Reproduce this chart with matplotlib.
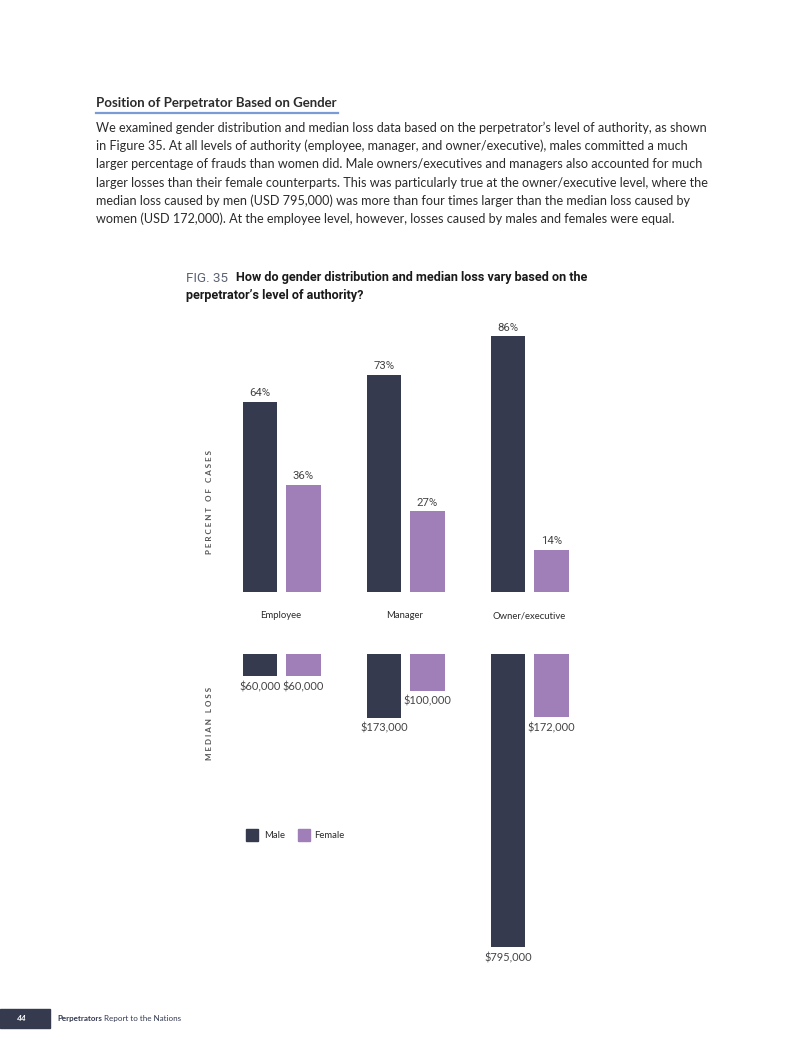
import matplotlib.pyplot as plt
from matplotlib.patches import Rectangle
import numpy as np

# data
levels = ['Employee', 'Manager', 'Owner/executive']
male_pct = [64, 73, 86]
female_pct = [36, 27, 14]
male_loss = [60000, 173000, 795000]
female_loss = [60000, 100000, 172000]

MALE = '#363a4f'
FEMALE = '#a07fb8'
TXT = '#2b2b2b'
W, H = 804, 1044

plt.rcParams['font.family'] = ['Lato', 'DejaVu Sans']
NARROW = ['Roboto', 'DejaVu Sans']

fig = plt.figure(figsize=(W / 100, H / 100), dpi=100)


def fx(x):
    return x / W


def fy(y):
    return 1 - y / H


# axes placed in pixel coords (left, top, right, bottom)
def pix_axes(l, t, r, b):
    return fig.add_axes([fx(l), fy(b), (r - l) / W, (b - t) / H])


# heading + paragraph
fig.text(fx(96), fy(103), 'Position of Perpetrator Based on Gender', fontsize=9.5,
         fontweight='bold', color=TXT, va='center')
fig.add_artist(plt.Line2D([fx(96), fx(338)], [fy(113), fy(113)], color='#7b9bd6', lw=1.6))
para = [
    "We examined gender distribution and median loss data based on the perpetrator\u2019s level of authority, as shown",
    "in Figure 35. At all levels of authority (employee, manager, and owner/executive), males committed a much",
    "larger percentage of frauds than women did. Male owners/executives and managers also accounted for much",
    "larger losses than their female counterparts. This was particularly true at the owner/executive level, where the",
    "median loss caused by men (USD 795,000) was more than four times larger than the median loss caused by",
    "women (USD 172,000). At the employee level, however, losses caused by males and females were equal.",
]
for i, line in enumerate(para):
    fig.text(fx(96), fy(128 + i * 18.2), line, fontsize=9.05, color=TXT, va='center')

# figure title
fig.text(fx(186), fy(278), 'FIG. 35', fontsize=9.6, color='#5a6275', va='center', family=NARROW)
fig.text(fx(236), fy(278), 'How do gender distribution and median loss vary based on the',
         fontsize=9.1, fontweight='bold', color='#1a1a1a', va='center', family=NARROW)
fig.text(fx(186), fy(296), 'perpetrator\u2019s level of authority?',
         fontsize=9.1, fontweight='bold', color='#1a1a1a', va='center', family=NARROW)

x = np.arange(len(levels))
off = 0.1754
bw = 0.282
xl = ((200 - 281.75) / 124, (600 - 281.75) / 124)

# top: percent of cases
ax1 = pix_axes(200, 309.8, 600, 591.5)
ax1.bar(x - off, male_pct, bw, color=MALE)
ax1.bar(x + off, female_pct, bw, color=FEMALE)
for i in range(len(levels)):
    ax1.text(x[i] - off, male_pct[i] + 1.3, f'{male_pct[i]}%', ha='center', va='bottom',
             fontsize=8.2, color='#444', family=NARROW)
    ax1.text(x[i] + off, female_pct[i] + 1.3, f'{female_pct[i]}%', ha='center', va='bottom',
             fontsize=8.2, color='#444', family=NARROW)
ax1.set_xlim(*xl)
ax1.set_ylim(0, 95)
ax1.axis('off')

# category labels
for i, lab in enumerate(levels):
    fig.text(fx(281.75 + 124 * i - 1), fy(616), lab, ha='center', va='center', fontsize=6.8, color=TXT)

# bottom: median loss (hanging bars)
ax2 = pix_axes(200, 654, 600, 952.6)
ax2.bar(x - off, male_loss, bw, color=MALE)
ax2.bar(x + off, female_loss, bw, color=FEMALE)
ax2.set_xlim(*xl)
ax2.set_ylim(810000, 0)
ax2.axis('off')
for i in range(len(levels)):
    for xx, v in ((x[i] - off, male_loss[i]), (x[i] + off, female_loss[i])):
        ax2.text(xx, v + 13000, f'${v:,}', ha='center', va='top', fontsize=7.9, color='#444')

# rotated axis titles
fig.text(fx(210), fy(502), ' '.join('PERCENT') + '   ' + ' '.join('OF') + '   ' + ' '.join('CASES'),
         rotation=90, ha='center', va='center', fontsize=5.8, fontweight='bold', color='#555')
fig.text(fx(210), fy(723), ' '.join('MEDIAN') + '   ' + ' '.join('LOSS'),
         rotation=90, ha='center', va='center', fontsize=5.8, fontweight='bold', color='#555')

# legend
fig.add_artist(Rectangle((fx(246), fy(841)), 12 / W, 12 / H, color=MALE, transform=fig.transFigure))
fig.text(fx(264), fy(835.5), 'Male', fontsize=6.8, va='center', color=TXT)
fig.add_artist(Rectangle((fx(298), fy(841)), 12 / W, 12 / H, color=FEMALE, transform=fig.transFigure))
fig.text(fx(314), fy(835.5), 'Female', fontsize=6.8, va='center', color=TXT)

# footer
fig.add_artist(Rectangle((0, fy(1028)), 50 / W, 19 / H, color=MALE, transform=fig.transFigure))
fig.text(fx(22), fy(1018.5), '44', fontsize=6, color='white', fontweight='bold', style='italic',
         ha='center', va='center')
fig.text(fx(57), fy(1018.5), 'Perpetrators', fontsize=5.8, fontweight='bold', color='#333a50', va='center')
fig.text(fx(104), fy(1018.5), 'Report to the Nations', fontsize=5.8, color='#333a50', va='center')

fig.savefig('out.png', dpi=100)
